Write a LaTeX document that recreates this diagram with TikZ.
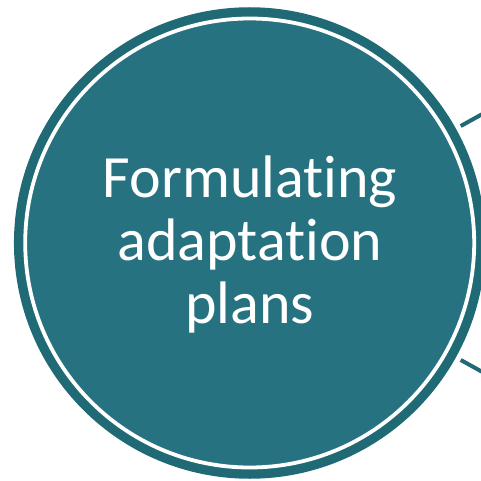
\documentclass[tikz,border=0pt]{standalone}
\usepackage{fontspec}
\setmainfont[Ligatures=NoCommon]{Carlito}
\pgfdeclarelayer{edgelayer}
\pgfdeclarelayer{nodelayer}
\pgfsetlayers{edgelayer,nodelayer,main}
\definecolor{planfill}{HTML}{277280}
\definecolor{planring}{HTML}{1F6A74}
\tikzstyle{stage}=[circle,fill=planfill,draw=planring,line width=9.5pt,minimum size=462pt,inner sep=0pt]
\tikzstyle{inner_ring}=[circle,draw=white,line width=3.8pt,minimum size=449pt,inner sep=0pt]
\tikzstyle{stage_text}=[text=white,align=center,inner sep=0pt,font=\fontsize{60}{63.3}\selectfont]
\tikzstyle{link}=[draw=planring,line width=4pt,shorten <=5.5pt]
\begin{document}
\begin{tikzpicture}[x=1pt,y=1pt]
	\useasboundingbox (0,0) rectangle (481,480);
	\clip (0,0) rectangle (481,480);
	\begin{pgfonlayer}{nodelayer}
		\node [style=stage] (plan) at (249.7, 237) {};
		\node [style={inner_ring}] (ring) at (plan.center) {};
		\node [style={stage_text}] (label) at (250, 235.5) {Formulating\\adaptation\\plans};
	\end{pgfonlayer}
	\coordinate (out_top) at ([shift={(29:300)}]plan.center);
	\coordinate (out_bottom) at ([shift={(-29:300)}]plan.center);
	\begin{pgfonlayer}{edgelayer}
		\draw [style=link] (plan) to (out_top);
		\draw [style=link] (plan) to (out_bottom);
	\end{pgfonlayer}
\end{tikzpicture}
\end{document}
